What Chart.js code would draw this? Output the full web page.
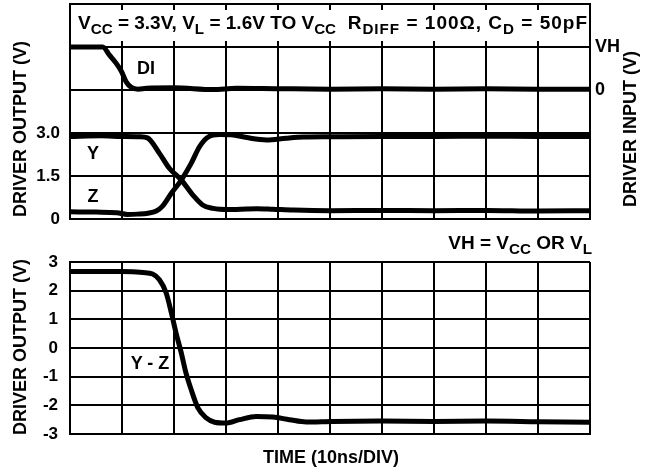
<!DOCTYPE html>
<html>
<head>
<meta charset="utf-8">
<script src="https://cdn.jsdelivr.net/npm/chart.js@4/dist/chart.umd.min.js"></script>
<style>
  html, body { margin: 0; padding: 0; background: #fff; }
  #wrap { position: relative; width: 645px; height: 473px; overflow: hidden;
          font-family: "Liberation Sans", Arial, Helvetica, sans-serif; font-weight: bold; color: #000; }
  canvas { position: absolute; left: 0; }
  .t { position: absolute; white-space: nowrap; line-height: 1; }
  .c { transform: translate(-50%, -50%); }
  .rot { transform: translate(-50%, -50%) rotate(-90deg); }
  sub { font-size: 80%; vertical-align: baseline; position: relative; top: 0.3em; }
</style>
</head>
<body>
<div id="wrap">
  <canvas id="top" width="645" height="240" style="top:0"></canvas>
  <canvas id="bottom" width="645" height="233" style="top:240px"></canvas>

  <div class="t" style="left:78px; top:13px; font-size:19px;">V<sub>CC</sub> = 3.3V, V<sub>L</sub> = 1.6V TO V<sub>CC</sub></div>
  <div class="t" style="right:57px; top:13px; font-size:19px; letter-spacing:1px;">R<sub>DIFF</sub> = 100Ω, C<sub>D</sub> = 50pF</div>

  <div class="t c" style="left:146px; top:68px; font-size:18px;">DI</div>
  <div class="t c" style="left:93px; top:153px; font-size:18px;">Y</div>
  <div class="t c" style="left:93px; top:196px; font-size:18px;">Z</div>
  <div class="t c" style="left:150px; top:363px; font-size:18px;">Y - Z</div>

  <div class="t" style="right:53px; top:233px; font-size:19px;">VH = V<sub>CC</sub> OR V<sub>L</sub></div>
  <div class="t c" style="left:331px; top:457px; font-size:18px;">TIME (10ns/DIV)</div>

  <div class="t rot" style="left:20px; top:129px; font-size:18px;">DRIVER OUTPUT (V)</div>
  <div class="t rot" style="left:20px; top:347px; font-size:18px;">DRIVER OUTPUT (V)</div>
  <div class="t rot" style="left:630px; top:129px; font-size:18px;">DRIVER INPUT (V)</div>
</div>

<script>
// Driver input DI (in units of VH), time in divisions (10 ns/div)
const diTime  = [0, 0.63, 0.76, 0.89, 0.99, 1.08, 1.18, 1.31, 1.47, 2.0, 2.75, 3.2, 4, 5, 6, 7, 8, 9, 10];
const diLevel = [1.0, 1.0, 0.81, 0.62, 0.43, 0.19, 0.06, 0.02, 0.04, 0.05, 0.01, 0.04, 0.03, 0.02, 0.03, 0.02, 0.03, 0.02, 0.02];

// Driver output Y (V)
const yTime  = [0, 0.6, 1.0, 1.34, 1.49, 1.72, 1.91, 2.14, 2.36, 2.55, 2.75, 2.88, 3.2, 3.6, 3.9, 4.3, 5, 6, 7, 8, 9, 10];
const yVolts = [2.88, 2.9, 2.88, 2.87, 2.83, 2.29, 1.77, 1.36, 0.84, 0.49, 0.37, 0.34, 0.33, 0.36, 0.34, 0.31, 0.29, 0.3, 0.29, 0.3, 0.28, 0.29];

// Driver output Z (V)
const zTime  = [0, 0.5, 0.9, 1.1, 1.3, 1.5, 1.66, 1.78, 1.95, 2.14, 2.33, 2.49, 2.65, 2.88, 3.1, 3.4, 3.78, 4.16, 4.5, 5, 6, 7, 8, 9, 10];
const zVolts = [0.25, 0.24, 0.22, 0.16, 0.17, 0.2, 0.28, 0.45, 0.9, 1.36, 1.94, 2.52, 2.85, 2.95, 2.94, 2.84, 2.76, 2.82, 2.86, 2.87, 2.88, 2.88, 2.89, 2.88, 2.88];

// Differential output Y - Z (V)
const diffTime  = [0, 0.6, 1.0, 1.2, 1.4, 1.59, 1.72, 1.85, 1.95, 2.04, 2.14, 2.23, 2.33, 2.46, 2.62, 2.78, 3.0, 3.26, 3.58, 3.9, 4.22, 4.54, 5.05, 6, 7, 8, 9, 10];
const diffVolts = [2.67, 2.67, 2.67, 2.66, 2.63, 2.58, 2.38, 1.92, 1.22, 0.52, -0.17, -0.87, -1.45, -2.09, -2.44, -2.59, -2.62, -2.5, -2.39, -2.41, -2.5, -2.58, -2.56, -2.55, -2.56, -2.55, -2.57, -2.59];

// Tick labels
const outTicks  = { 0: '0', 1.5: '1.5', 3: '3.0' };
const inTicks   = { 0: '0', 1: 'VH' };
const diffTicks = [-3, -2, -1, 0, 1, 2, 3];

const pts = (xs, ys) => xs.map((x, i) => ({ x, y: ys[i] }));
const INK = '#000';
const tickFont = { family: '"Liberation Sans", Arial, sans-serif', size: 17, weight: 'bold' };

function fixedWidth(w) {
  return function (scale) { scale.width = w; scale.paddingTop = 0; scale.paddingBottom = 0; };
}
function fixedHeight(h) {
  return function (scale) { scale.height = h; scale.paddingLeft = 0; scale.paddingRight = 0; };
}

function trace(data, axis) {
  return {
    data, yAxisID: axis, borderColor: INK, borderWidth: 5, pointRadius: 0,
    cubicInterpolationMode: 'monotone', fill: false,
    borderCapStyle: 'round', borderJoinStyle: 'round'
  };
}

const gridStyle = { color: INK, lineWidth: 2, drawTicks: false };
const borderStyle = { display: true, color: INK, width: 2 };

// Clear the vertical grid inside the header row and leave short stubs
const headerRow = {
  id: 'headerRow',
  beforeDatasetsDraw(chart) {
    const { ctx, chartArea: a, scales } = chart;
    const rowBottom = scales.y.getPixelForValue(6);
    ctx.save();
    ctx.fillStyle = '#fff';
    ctx.fillRect(a.left + 1, a.top + 1, a.right - a.left - 2, rowBottom - a.top - 2);
    ctx.strokeStyle = INK;
    ctx.lineWidth = 2;
    for (let v = 1; v < 10; v++) {
      const x = scales.x.getPixelForValue(v);
      ctx.beginPath();
      ctx.moveTo(x, a.top); ctx.lineTo(x, a.top + 6);
      ctx.moveTo(x, rowBottom - 6); ctx.lineTo(x, rowBottom);
      ctx.stroke();
    }
    ctx.restore();
  }
};

new Chart(document.getElementById('top'), {
  type: 'line',
  data: {
    datasets: [
      trace(pts(diTime, diLevel), 'y2'),
      trace(pts(yTime, yVolts), 'y'),
      trace(pts(zTime, zVolts), 'y')
    ]
  },
  options: {
    responsive: false, animation: false, devicePixelRatio: 1,
    layout: { padding: { top: 4, left: 0, right: 0, bottom: 0 } },
    plugins: { legend: { display: false }, tooltip: { enabled: false } },
    scales: {
      x: {
        type: 'linear', min: 0, max: 10,
        ticks: { stepSize: 1, display: false },
        grid: gridStyle, border: borderStyle,
        afterFit: fixedHeight(21)
      },
      y: {
        position: 'left', min: 0, max: 7.5,
        ticks: { stepSize: 1.5, color: INK, font: tickFont, padding: 10,
                 callback: v => (v in outTicks ? outTicks[v] : '') },
        grid: gridStyle, border: borderStyle,
        afterFit: fixedWidth(70)
      },
      y2: {
        position: 'right', min: -3, max: 2,
        ticks: { stepSize: 1, color: INK, font: { ...tickFont, size: 18 }, padding: 5,
                 callback: v => (v in inTicks ? inTicks[v] : '') },
        grid: { display: false, drawTicks: false }, border: borderStyle,
        afterFit: fixedWidth(55)
      }
    }
  },
  plugins: [headerRow]
});

new Chart(document.getElementById('bottom'), {
  type: 'line',
  data: { datasets: [trace(pts(diffTime, diffVolts), 'y')] },
  options: {
    responsive: false, animation: false, devicePixelRatio: 1,
    layout: { padding: { top: 22, left: 0, right: 55, bottom: 0 } },
    plugins: { legend: { display: false }, tooltip: { enabled: false } },
    scales: {
      x: {
        type: 'linear', min: 0, max: 10,
        ticks: { stepSize: 1, display: false },
        grid: gridStyle, border: borderStyle,
        afterFit: fixedHeight(39)
      },
      y: {
        position: 'left', min: -3, max: 3,
        ticks: { stepSize: 1, color: INK, font: tickFont, padding: 12,
                 callback: v => (diffTicks.includes(v) ? String(v) : '') },
        grid: gridStyle, border: borderStyle,
        afterFit: fixedWidth(70)
      }
    }
  }
});
</script>
</body>
</html>
